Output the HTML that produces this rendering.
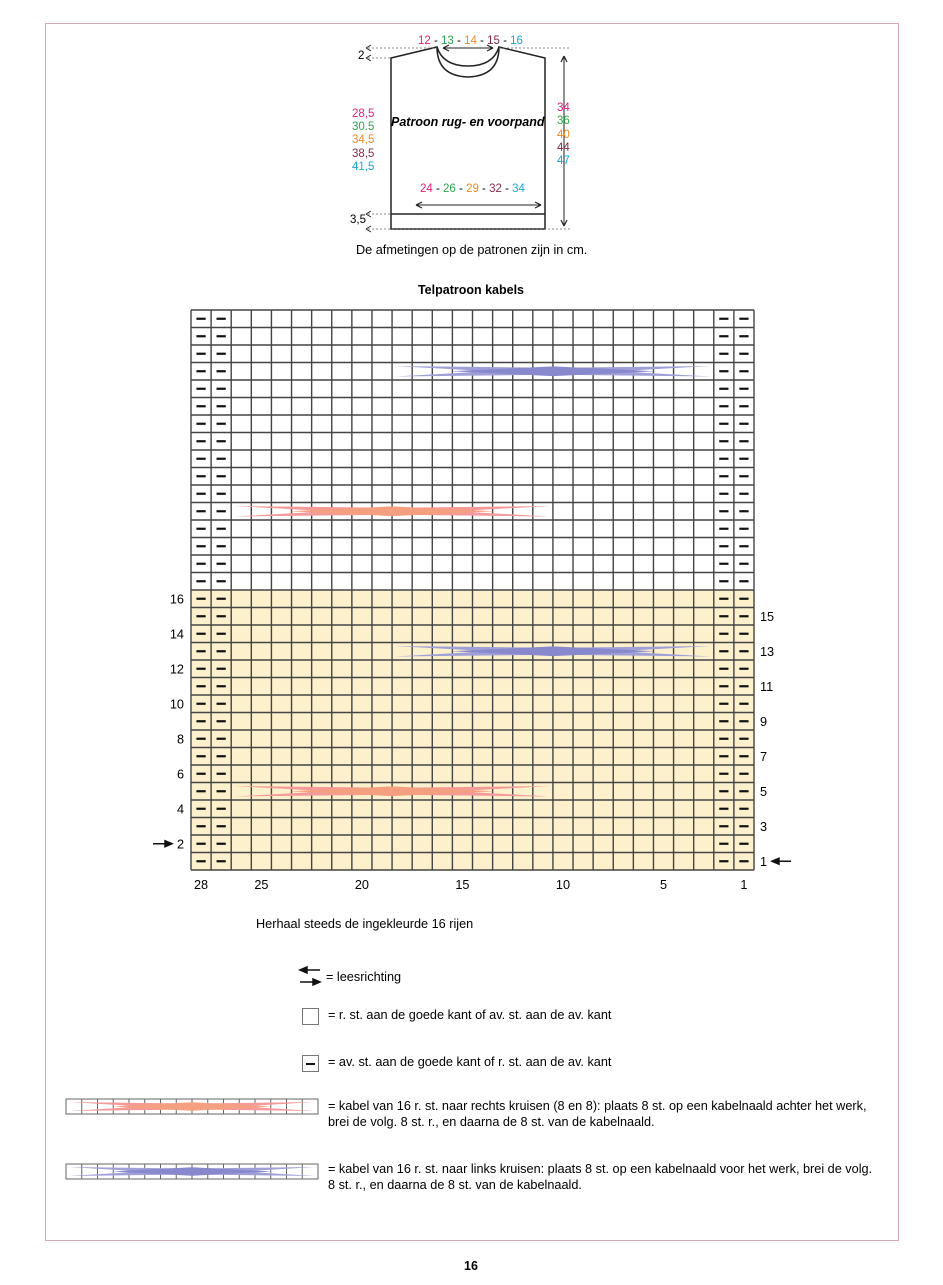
<!DOCTYPE html>
<html><head><meta charset="utf-8">
<style>
body{margin:0;background:#fff;}
svg{display:block;font-family:"Liberation Sans",sans-serif;}
</style></head>
<body>
<svg id="s" width="943" height="1285" viewBox="0 0 943 1285" xmlns="http://www.w3.org/2000/svg">
<rect x="45.5" y="23.5" width="853" height="1217" fill="none" stroke="#d8a8b8" stroke-width="1"/>
<g stroke="#222" fill="none" stroke-width="1.5">
<path d="M391,229 L391,58 L437,47 Q437,76 468,77 Q499,76 499,47 L545,58 L545,229 Z"/>
<path d="M437,47 Q443,66 468,66 Q493,66 499,47"/>
<line x1="391" y1="214" x2="545" y2="214"/>
<line x1="443" y1="48" x2="493" y2="48" stroke-width="1"/>
<line x1="416" y1="205" x2="541" y2="205" stroke-width="1"/>
<line x1="564" y1="56" x2="564" y2="226" stroke-width="1"/>
<path d="M443,48 l6,-3 M443,48 l6,3 M493,48 l-6,-3 M493,48 l-6,3 M416,205 l6,-3 M416,205 l6,3 M541,205 l-6,-3 M541,205 l-6,3 M564,56 l-3,6 M564,56 l3,6 M564,226 l-3,-6 M564,226 l3,-6" stroke-width="1.2"/>
<g stroke-dasharray="2,2" stroke-width="0.8" stroke="#666"><line x1="368" y1="48" x2="437" y2="48"/><line x1="499" y1="48" x2="570" y2="48"/><line x1="368" y1="58" x2="391" y2="58"/><line x1="368" y1="214" x2="391" y2="214"/><line x1="368" y1="229" x2="570" y2="229"/></g>
<path d="M366,48 l5,-3 M366,48 l5,3 M366,58 l5,-3 M366,58 l5,3 M366,214 l5,-3 M366,214 l5,3 M366,229 l5,-3 M366,229 l5,3" stroke-width="1"/>
</g>
<g font-size="11.5">
<text x="418" y="44"><tspan fill="#e0207f">12</tspan> - <tspan fill="#2ea84a">13</tspan> - <tspan fill="#f08a24">14</tspan> - <tspan fill="#8b2a4a">15</tspan> - <tspan fill="#19a8d8">16</tspan></text>
<text x="358" y="59">2</text>
<text x="350" y="223">3,5</text>
<text x="420" y="192"><tspan fill="#e0207f">24</tspan> - <tspan fill="#2ea84a">26</tspan> - <tspan fill="#f08a24">29</tspan> - <tspan fill="#8b2a4a">32</tspan> - <tspan fill="#19a8d8">34</tspan></text>
<text x="352" y="117" fill="#e0207f">28,5</text><text x="352" y="130" fill="#2ea84a">30.5</text><text x="352" y="143" fill="#f08a24">34,5</text><text x="352" y="157" fill="#8b2a4a">38,5</text><text x="352" y="170" fill="#19a8d8">41,5</text>
<text x="557" y="111" fill="#e0207f">34</text><text x="557" y="124" fill="#2ea84a">36</text><text x="557" y="138" fill="#f08a24">40</text><text x="557" y="151" fill="#8b2a4a">44</text><text x="557" y="164" fill="#19a8d8">47</text>
<text x="391" y="126" font-style="italic" font-weight="bold" font-size="12.5">Patroon rug- en voorpand</text>
</g>
<text x="356" y="254" font-size="12.7">De afmetingen op de patronen zijn in cm.</text>
<text x="471" y="294" font-size="12.5" font-weight="bold" text-anchor="middle">Telpatroon kabels</text>
<g id="chart"></g>
<text x="256" y="928" font-size="12.7">Herhaal steeds de ingekleurde 16 rijen</text>
<g font-size="12.7">
<g stroke="#111" stroke-width="1.5" fill="none">
<line x1="302" y1="970" x2="320" y2="970"/><path d="M300,970 l7,-3 v6 z" fill="#111"/>
<line x1="300" y1="982" x2="318" y2="982"/><path d="M320,982 l-7,-3 v6 z" fill="#111"/>
</g>
<text x="326" y="981">= leesrichting</text>
<rect x="302.5" y="1008.5" width="16" height="16" fill="#fff" stroke="#777"/>
<text x="328" y="1019">= r. st. aan de goede kant of av. st. aan de av. kant</text>
<rect x="302.5" y="1055.5" width="16" height="16" fill="#fff" stroke="#777"/>
<line x1="306" y1="1064" x2="315" y2="1064" stroke="#111" stroke-width="2"/>
<text x="328" y="1066">= av. st. aan de goede kant of r. st. aan de av. kant</text>
<g id="leg1"></g>
<text x="328" y="1110">= kabel van 16 r. st. naar rechts kruisen (8 en 8): plaats 8 st. op een kabelnaald achter het werk,</text>
<text x="328" y="1126">brei de volg. 8 st. r., en daarna de 8 st. van de kabelnaald.</text>
<g id="leg2"></g>
<text x="328" y="1173">= kabel van 16 r. st. naar links kruisen: plaats 8 st. op een kabelnaald voor het werk, brei de volg.</text>
<text x="328" y="1189">8 st. r., en daarna de 8 st. van de kabelnaald.</text>
</g>
<text x="471" y="1270" font-size="12.5" font-weight="bold" text-anchor="middle">16</text>
</svg>
<script>
const numCols = 28;
const numRows = 32;
const coloredRows = 16;
const purlStitches = [1,2,27,28];
const cableRows = [5,13,21,29];
const cableStartStitch = [26,18,26,18];
const cableType = ["right","left","right","left"];
const leftRowLabels = [2,4,6,8,10,12,14,16];
const rightRowLabels = [1,3,5,7,9,11,13,15];
const colTickLabels = [28,25,20,15,10,5,1];

const NS="http://www.w3.org/2000/svg";
const X0=191, X1=754, Y0=310, Y1=870;
const cw=(X1-X0)/numCols, rh=(Y1-Y0)/numRows;
const xS=st=>X0+(numCols-st)*cw;
const yR=r=>Y1-r*rh;
const chart=document.getElementById('chart');
function mk(tag,attrs,parent){const e=document.createElementNS(NS,tag);for(const k in attrs)e.setAttribute(k,attrs[k]);(parent||chart).appendChild(e);return e;}
const bg=mk('rect',{x:X0,y:yR(coloredRows),width:X1-X0,height:coloredRows*rh,fill:'#fdf0cc'});


function cable(x,y,w,h,type,parent){
  const g=mk('g',{},parent);
  
  
  const c1=type==='right'?'#f49a9a':'#a0a0d8', c2=type==='right'?'#f4a080':'#8888cc';
  const x0=x+3,x1=x+w-3,xm=x+w/2, t=y+h*0.2, b=y+h*0.8, m=y+h/2;
  const k=h*0.2;
  mk('polygon',{points:`${x0},${t} ${xm},${m-k} ${x1},${b} ${xm},${m+k}`,fill:c1},g);
  mk('polygon',{points:`${x0},${b} ${xm},${m-k} ${x1},${t} ${xm},${m+k}`,fill:c1},g);
  mk('polygon',{points:`${x+w*0.18},${m} ${xm},${m-h*0.28} ${x+w*0.82},${m} ${xm},${m+h*0.28}`,fill:c2},g);
}
for(let c=0;c<=numCols;c++){mk('line',{x1:X0+c*cw,y1:Y0,x2:X0+c*cw,y2:Y1,stroke:'#444','stroke-width':1.4});}
for(let r=0;r<=numRows;r++){mk('line',{x1:X0,y1:Y0+r*rh,x2:X1,y2:Y0+r*rh,stroke:'#444','stroke-width':1.4});}
for(let r=1;r<=numRows;r++){for(const st of purlStitches){const x=xS(st),y=yR(r)+rh/2;
  const d=mk('line',{x1:x+cw*0.27,y1:y,x2:x+cw*0.73,y2:y,stroke:'#111','stroke-width':2.2});
  
  }}
cableRows.forEach((r,i)=>{cable(xS(cableStartStitch[i]),yR(r),16*cw,rh,cableType[i],chart);});
leftRowLabels.forEach(r=>{const t=mk('text',{x:X0-7,y:yR(r)+rh/2+4.5,'font-size':12.7,'text-anchor':'end'});t.textContent=r;
  
  });
rightRowLabels.forEach(r=>{const t=mk('text',{x:X1+6,y:yR(r)+rh/2+4.5,'font-size':12.7});t.textContent=r;
  
  });
colTickLabels.forEach(st=>{const t=mk('text',{x:xS(st)+cw/2,y:Y1+19,'font-size':12.7,'text-anchor':'middle'});t.textContent=st;
  
  });
const a1=mk('g',{stroke:'#111','stroke-width':1.5,fill:'#111'});


const y2=yR(2)+rh/2, y1=yR(1)+rh/2;
mk('line',{x1:153,y1:y2,x2:168,y2:y2},a1);mk('path',{d:`M172,${y2} l-7,-3 v6 z`},a1);
mk('line',{x1:776,y1:y1,x2:791,y2:y1},a1);mk('path',{d:`M772,${y1} l7,-3 v6 z`},a1);
function legCable(id,type,y){const g=document.getElementById(id);const x=66,w=252,h=15,c=w/16;
  mk('rect',{x:x,y:y,width:w,height:h,fill:'#fff',stroke:'#666'},g);
  for(let i=1;i<16;i++)mk('line',{x1:x+i*c,y1:y,x2:x+i*c,y2:y+h,stroke:'#666'},g);
  cable(x,y,w,h,type,g);}
legCable('leg1','right',1099);
legCable('leg2','left',1164);
</script>
</body></html>
